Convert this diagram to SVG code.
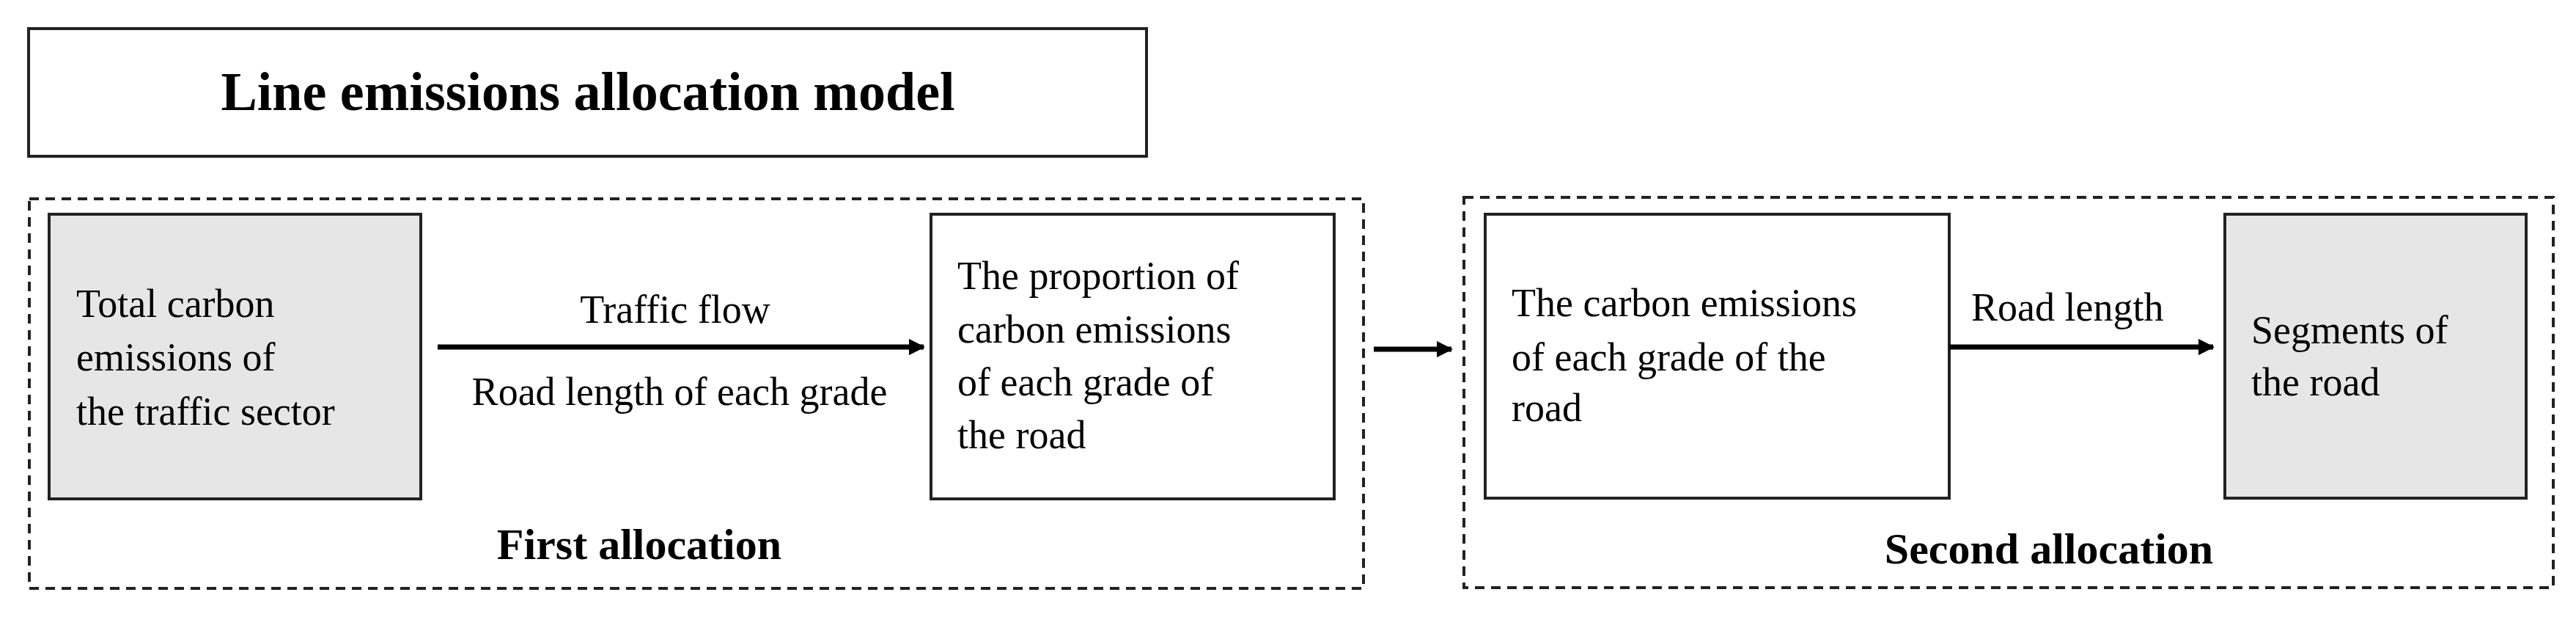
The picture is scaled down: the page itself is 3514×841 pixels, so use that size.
<svg xmlns="http://www.w3.org/2000/svg" width="3514" height="841" viewBox="0 0 3514 841">
<style>
.t{font-family:"Liberation Serif","Times New Roman",serif;font-size:54px;fill:#000}
.b{font-family:"Liberation Serif","Times New Roman",serif;font-weight:bold;fill:#000}
.box{stroke:#222;stroke-width:4}
.dash{fill:none;stroke:#222;stroke-width:4;stroke-dasharray:13 9}
.c{stroke:#000;stroke-width:7;fill:none}
</style>
<defs><marker id="ah" viewBox="0 0 10 10" refX="9" refY="5" markerWidth="3.2" markerHeight="3.2" orient="auto" markerUnits="strokeWidth"><path d="M0,0L10,5L0,10z" fill="#000"/></marker></defs>
<rect width="3514" height="841" fill="#fff"/>
<g id="title"><rect class="box" x="39" y="39" width="1525" height="174" fill="#fff"/><text class="b" x="802" y="150" font-size="74" text-anchor="middle">Line emissions allocation model</text></g>
<g id="group1"><rect class="dash" x="40" y="271" width="1820" height="531"/><text class="b" x="872" y="762" font-size="60" text-anchor="middle">First allocation</text></g>
<g id="group2"><rect class="dash" x="1997" y="269" width="1486" height="532"/><text class="b" x="2795" y="768" font-size="60" text-anchor="middle">Second allocation</text></g>
<g id="n1"><rect class="box" x="67" y="292" width="507" height="388" fill="#e6e6e6"/><text class="t" x="104" y="432">Total carbon</text><text class="t" x="104" y="505">emissions of</text><text class="t" x="104" y="579">the traffic sector</text></g>
<g id="n2"><rect class="box" x="1270" y="292" width="550" height="388" fill="#fff"/><text class="t" x="1306" y="394">The proportion of</text><text class="t" x="1306" y="467">carbon emissions</text><text class="t" x="1306" y="539">of each grade of</text><text class="t" x="1306" y="611">the road</text></g>
<g id="n3"><rect class="box" x="2026" y="292" width="633" height="387" fill="#fff"/><text class="t" x="2062" y="431">The carbon emissions</text><text class="t" x="2062" y="505">of each grade of the</text><text class="t" x="2062" y="574">road</text></g>
<g id="n4"><rect class="box" x="3035" y="292" width="411" height="387" fill="#e6e6e6"/><text class="t" x="3071" y="468">Segments of</text><text class="t" x="3071" y="539">the road</text></g>
<g id="connectors">
<line class="c" x1="597" y1="473" x2="1260" y2="473" marker-end="url(#ah)"/>
<line class="c" x1="1874" y1="476" x2="1980" y2="476" marker-end="url(#ah)"/>
<line class="c" x1="2659" y1="473" x2="3019" y2="473" marker-end="url(#ah)"/>
<text class="t" x="921" y="440" text-anchor="middle">Traffic flow</text>
<text class="t" x="927" y="552" text-anchor="middle">Road length of each grade</text>
<text class="t" x="2689" y="437">Road length</text>
</g>
</svg>
